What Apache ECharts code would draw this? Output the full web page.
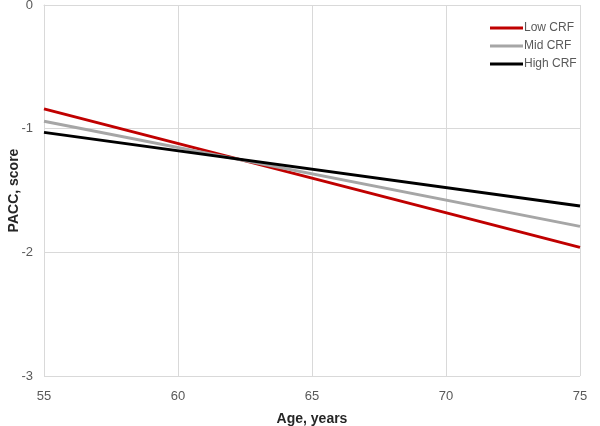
<!DOCTYPE html>
<html><head><meta charset="utf-8">
<script src="https://cdn.jsdelivr.net/npm/echarts@6/dist/echarts.min.js"></script>
<style>html,body{margin:0;padding:0;background:#fff}#c{width:600px;height:426px}</style>
</head><body><div id="c"></div>
<script>
const ages = [55, 75];
const lowCRF = [-0.84, -1.96];
const midCRF = [-0.94, -1.79];
const highCRF = [-1.03, -1.625];
const seriesNames = ['Low CRF', 'Mid CRF', 'High CRF'];
const colors = ['#c00000', '#a6a6a6', '#000000'];
const xTicks = {min: 55, max: 75, interval: 5};
const yTicks = {min: -3, max: 0, interval: 1};

const font = 'Liberation Sans, Arial, sans-serif';
const chart = echarts.init(document.getElementById('c'));
const mk = (name, vals, i) => ({
  name, type: 'line', symbol: 'none', color: colors[i],
  lineStyle: {width: 3, color: colors[i]},
  data: ages.map((a, k) => [a, vals[k]])
});
chart.setOption({
  animation: false,
  textStyle: {fontFamily: font},
  grid: {left: 44, right: 20, top: 5, bottom: 50, containLabel: false, outerBoundsMode: 'none'},
  legend: {
    orient: 'vertical', left: 485, top: 17, itemGap: 6, itemWidth: 33, itemHeight: 3, icon: 'rect',
    textStyle: {color: '#595959', fontSize: 12, fontFamily: font, padding: [0,0,0,-4]},
    data: seriesNames
  },
  xAxis: {
    type: 'value', min: xTicks.min, max: xTicks.max, interval: xTicks.interval,
    name: 'Age, years', nameLocation: 'middle', nameGap: 36, nameMoveOverlap: false,
    nameTextStyle: {fontWeight: 'bold', color: '#262626', fontSize: 14, fontFamily: font},
    axisLine: {show: true, lineStyle: {color: '#d9d9d9'}}, axisTick: {show: false},
    axisLabel: {color: '#595959', fontSize: 13, margin: 14},
    splitLine: {show: true, lineStyle: {color: '#d9d9d9', width: 1}}
  },
  yAxis: {
    type: 'value', min: yTicks.min, max: yTicks.max, interval: yTicks.interval,
    name: 'PACC, score', nameLocation: 'middle', nameGap: 23, nameMoveOverlap: false,
    nameTextStyle: {fontWeight: 'bold', color: '#262626', fontSize: 14, fontFamily: font},
    axisLine: {show: true, lineStyle: {color: '#d9d9d9'}}, axisTick: {show: false},
    axisLabel: {color: '#595959', fontSize: 13, margin: 11},
    splitLine: {show: true, lineStyle: {color: '#d9d9d9', width: 1}}
  },
  series: [mk(seriesNames[0], lowCRF, 0), mk(seriesNames[1], midCRF, 1), mk(seriesNames[2], highCRF, 2)]
});
</script></body></html>
